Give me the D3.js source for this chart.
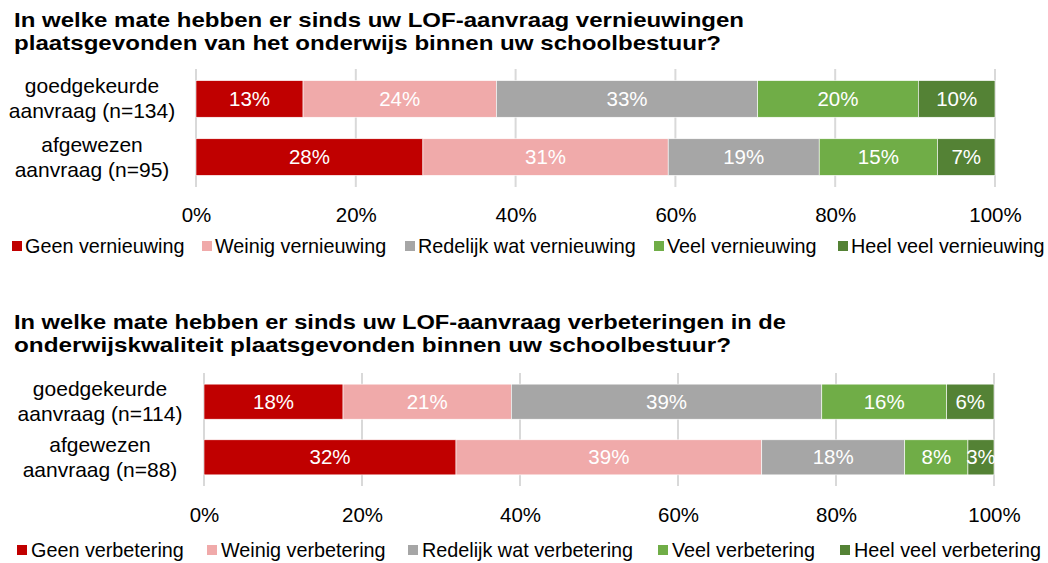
<!DOCTYPE html>
<html>
<head>
<meta charset="utf-8">
<script src="https://cdn.jsdelivr.net/npm/d3@7"></script>
<style>
  body { margin: 0; background: #fff; }
  svg { font-family: "Liberation Sans", Arial, sans-serif; }
</style>
</head>
<body>
<svg id="chart" width="1048" height="563"></svg>
<script>
// data
const rows1 = ["goedgekeurde|aanvraag (n=134)", "afgewezen|aanvraag (n=95)"];
const series1 = ["Geen vernieuwing", "Weinig vernieuwing", "Redelijk wat vernieuwing", "Veel vernieuwing", "Heel veel vernieuwing"];
const values1 = [
  [13.4, 24.2, 32.7, 20.1, 9.6],
  [28.4, 30.7, 18.9, 14.8, 7.2]
];
const title1 = ["In welke mate hebben er sinds uw LOF-aanvraag vernieuwingen", "plaatsgevonden van het onderwijs binnen uw schoolbestuur?"];

const rows2 = ["goedgekeurde|aanvraag (n=114)", "afgewezen|aanvraag (n=88)"];
const series2 = ["Geen verbetering", "Weinig verbetering", "Redelijk wat verbetering", "Veel verbetering", "Heel veel verbetering"];
const values2 = [
  [17.6, 21.3, 39.3, 15.8, 6.0],
  [31.9, 38.7, 18.1, 8.0, 3.3]
];
const title2 = ["In welke mate hebben er sinds uw LOF-aanvraag verbeteringen in de", "onderwijskwaliteit plaatsgevonden binnen uw schoolbestuur?"];

const ticks = [0, 20, 40, 60, 80, 100];
const colors = ["#C00000", "#F0AAAA", "#A6A6A6", "#70AD47", "#548235"];

const svg = d3.select("#chart");

function drawChart(opt) {
  const g = svg.append("g");

  // titles are a bit wider than the plain font, stretch them
  g.selectAll("text.title")
    .data(opt.title)
    .join("text")
    .attr("x", 14)
    .attr("y", (d, i) => opt.titleY + i * 23)
    .attr("font-size", 21)
    .attr("font-weight", "bold")
    .attr("fill", "#000")
    .attr("textLength", (d, i) => opt.titleW[i])
    .attr("lengthAdjust", "spacingAndGlyphs")
    .text(d => d);

  const x = d3.scaleLinear().domain([0, 100]).range([opt.x0, opt.x1]);
  const y = d3.scaleBand().domain(d3.range(opt.rows.length))
    .range([opt.yTop, opt.yBottom]).paddingInner(0.37).paddingOuter(0.2);

  // gridlines
  g.selectAll("line.grid")
    .data(ticks)
    .join("line")
    .attr("x1", d => x(d)).attr("x2", d => x(d))
    .attr("y1", opt.yTop).attr("y2", opt.yBottom)
    .attr("stroke", "#D9D9D9").attr("stroke-width", 2);

  const stacked = opt.values.map((vals, r) => {
    let acc = 0;
    return vals.map((v, s) => {
      const seg = { r: r, s: s, v: v, a: acc, b: acc + v };
      acc += v;
      return seg;
    });
  }).flat();

  g.selectAll("rect.seg")
    .data(stacked)
    .join("rect")
    .attr("x", d => x(d.a))
    .attr("y", d => y(d.r))
    .attr("width", d => x(d.b) - x(d.a))
    .attr("height", y.bandwidth())
    .attr("fill", d => colors[d.s])
    .attr("stroke", "#fff").attr("stroke-width", 0.6);

  g.selectAll("text.lbl")
    .data(stacked)
    .join("text")
    .attr("x", d => x((d.a + d.b) / 2))
    .attr("y", d => y(d.r) + y.bandwidth() / 2 + 7)
    .attr("text-anchor", "middle")
    .attr("font-size", 20.5)
    .attr("fill", "#fff")
    .text(d => Math.round(d.v) + "%");

  // category labels
  opt.rows.forEach((row, i) => {
    const cy = y(i) + y.bandwidth() / 2;
    row.split("|").forEach((line, j) => {
      g.append("text")
        .attr("x", opt.labelX)
        .attr("y", cy + (j === 0 ? -12.5 : 12.5) + 7)
        .attr("text-anchor", "middle")
        .attr("font-size", 21)
        .attr("fill", "#000")
        .text(line);
    });
  });

  // x axis
  const axis = g.append("g")
    .attr("transform", `translate(0,${opt.tickY})`)
    .call(d3.axisBottom(x).tickValues(ticks).tickFormat(d => d + "%").tickSize(0));
  axis.select(".domain").remove();
  axis.selectAll("text").attr("font-size", 20.5).attr("fill", "#000")
    .attr("font-family", "Liberation Sans, Arial, sans-serif").attr("dy", 0);

  // legend
  const leg = g.selectAll("g.leg")
    .data(opt.series)
    .join("g")
    .attr("transform", (d, i) => `translate(${opt.legendX[i]},${opt.legendY})`);
  leg.append("rect")
    .attr("x", 0).attr("y", -12).attr("width", 10).attr("height", 10)
    .attr("fill", (d, i) => colors[i]);
  leg.append("text")
    .attr("x", opt.legendGap).attr("y", 0)
    .attr("font-size", opt.legendSize)
    .attr("fill", "#000")
    .text(d => d);
}

drawChart({
  title: title1, titleW: [730, 707], titleY: 26.5, rows: rows1, values: values1, series: series1,
  x0: 196, x1: 995, yTop: 69, yBottom: 187, labelX: 92, tickY: 219,
  legendY: 253, legendGap: 13, legendSize: 19.8, legendX: [12, 202, 405, 654, 838]
});

drawChart({
  title: title2, titleW: [772, 717], titleY: 329, rows: rows2, values: values2, series: series2,
  x0: 204, x1: 994, yTop: 373, yBottom: 486, labelX: 100, tickY: 519,
  legendY: 557, legendGap: 14, legendSize: 19.8, legendX: [17, 207, 408, 658, 840]
});
</script>
</body>
</html>
